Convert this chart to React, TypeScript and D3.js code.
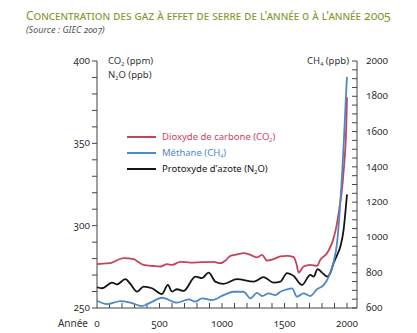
import React from "react";
import * as d3 from "d3";

const co2Years = [0, 50, 107, 160, 213, 293, 340, 373, 450, 507, 560, 600, 667, 747, 840, 933, 987, 1030, 1067, 1120, 1173, 1227, 1280, 1320, 1360, 1413, 1467, 1520, 1573, 1595, 1613, 1653, 1707, 1760, 1787, 1840, 1880, 1910, 1940, 1960, 1975, 1985, 1995, 2000];
const co2Values = [276.6, 277, 277.2, 279, 280.3, 279.7, 277.5, 276.2, 275.5, 275.2, 276.6, 276.2, 278, 277.6, 277.8, 278, 277.2, 279, 281.7, 282.5, 283.3, 282.3, 280.7, 282.3, 278.8, 279.7, 281.3, 281.7, 280.9, 277, 271.5, 275.2, 276.2, 275.6, 279.3, 283.3, 289.4, 297.6, 311, 322, 335, 345, 362, 378];

const ch4Years = [0, 80, 187, 267, 360, 427, 520, 640, 733, 787, 840, 920, 1013, 1093, 1173, 1227, 1280, 1320, 1373, 1427, 1467, 1520, 1560, 1600, 1653, 1707, 1760, 1813, 1853, 1893, 1920, 1940, 1960, 1975, 1985, 1995, 2000];
const ch4Values = [641, 622, 639, 630, 611, 630, 658, 630, 649, 636, 655, 645, 673, 692, 692, 655, 686, 668, 683, 673, 692, 706, 711, 664, 683, 668, 706, 730, 777, 862, 966, 1130, 1350, 1550, 1700, 1850, 1910];

const n2oYears = [0, 40, 120, 160, 227, 267, 320, 373, 440, 520, 567, 600, 640, 693, 787, 840, 893, 947, 1013, 1120, 1253, 1333, 1413, 1467, 1520, 1573, 1640, 1707, 1733, 1765, 1800, 1840, 1870, 1893, 1920, 1947, 1973, 1987, 2000];
const n2oValues = [262.6, 262, 265.4, 264.4, 267.5, 264.6, 260, 263, 262, 258.5, 264, 260, 261.4, 260.4, 269.1, 268.1, 271.5, 266, 264.6, 267.5, 266, 268.7, 265.4, 266, 271.2, 269.5, 264, 270.1, 269.1, 273.6, 271.5, 269.1, 272, 277.3, 282, 287.4, 297.6, 308, 319];

const leftTicks = [250, 300, 350, 400];
const rightTicks = [600, 800, 1000, 1200, 1400, 1600, 1800, 2000];
const xTicks = [0, 500, 1000, 1500, 2000];

const RED = "#c8435a";
const BLUE = "#4f88c6";
const BLACK = "#151515";
const GREEN = "#7f9a35";
const AXIS = "#444";
const FONT = "'Noto Sans', 'Open Sans', sans-serif";
const NUM: React.CSSProperties = { fontVariantNumeric: "oldstyle-nums", fontFeatureSettings: "'onum' 1" };

export default function App() {
  const W = 417, H = 333;
  const x = d3.scaleLinear().domain([0, 2080]).range([97, 357]);
  const yL = d3.scaleLinear().domain([250, 400]).range([308, 61]);
  const yR = d3.scaleLinear().domain([600, 2000]).range([308, 61]);

  const mk = (ys: number[], vs: number[], sc: d3.ScaleLinear<number, number>) =>
    d3.line<number>().x((_, i) => x(ys[i])).y((v) => sc(v)).curve(d3.curveMonotoneX)(vs) || "";

  const leftMinor = d3.range(250, 401, 10);
  const rightMinor = d3.range(600, 2001, 50);
  const xMinor = d3.range(100, 2001, 100);

  return (
    <svg width={W} height={H} style={{ position: "absolute", left: 0, top: 0, background: "#fff" }} fontFamily={FONT}>
      <text x={26} y={20} fill={GREEN} fontSize={12.2} style={{ fontVariant: "small-caps", ...NUM }}>
        Concentration des gaz à effet de serre de l'année 0 à l'année 2005
      </text>
      <text x={26} y={33} fill="#555" fontSize={9} fontStyle="italic" style={NUM}>(Source : GIEC 2007)</text>

      {/* left axis */}
      <line x1={97} x2={97} y1={yL(400)} y2={308} stroke={AXIS} strokeWidth={1} />
      {leftMinor.map((t) => (
        <line key={"l" + t} x1={92} x2={97} y1={yL(t)} y2={yL(t)} stroke={AXIS} strokeWidth={1} />
      ))}
      {leftTicks.map((t) => (
        <text key={"lt" + t} x={90} y={yL(t) + 3} textAnchor="end" fontSize={10} fill="#333" style={NUM}>{t}</text>
      ))}
      <text x={108} y={64} fontSize={9.5} fill="#333">CO<tspan fontSize={5.5} dy={1.5}>2</tspan><tspan dy={-1.5}> (ppm)</tspan></text>
      <text x={108} y={78} fontSize={9.5} fill="#333">N<tspan fontSize={5.5} dy={1.5}>2</tspan><tspan dy={-1.5}>O (ppb)</tspan></text>

      {/* right axis */}
      <line x1={357} x2={357} y1={yR(2000)} y2={308} stroke={AXIS} strokeWidth={1} />
      {rightMinor.map((t) => (
        <line key={"r" + t} x1={352} x2={357} y1={yR(t)} y2={yR(t)} stroke={AXIS} strokeWidth={1} />
      ))}
      {rightTicks.map((t) => (
        <text key={"rt" + t} x={366} y={yR(t) + 3} fontSize={10} fill="#333" style={NUM}>{t}</text>
      ))}
      <text x={349} y={64} textAnchor="end" fontSize={9.5} fill="#333">CH<tspan fontSize={5.5} dy={1.5}>4</tspan><tspan dy={-1.5}> (ppb)</tspan></text>

      {/* x axis */}
      <line x1={97} x2={357} y1={308} y2={308} stroke={AXIS} strokeWidth={1} />
      {xMinor.map((t) => (
        <line key={"x" + t} x1={x(t)} x2={x(t)} y1={303} y2={308} stroke={AXIS} strokeWidth={1} />
      ))}
      {xTicks.map((t) => (
        <text key={"xt" + t} x={x(t)} y={327} textAnchor="middle" fontSize={10} fill="#333" style={NUM}>{t}</text>
      ))}
      <text x={88} y={327} textAnchor="end" fontSize={10} fill="#333">Année</text>

      {/* series */}
      <path d={mk(n2oYears, n2oValues, yL)} fill="none" stroke={BLACK} strokeWidth={1.8} strokeLinejoin="round" />
      <path d={mk(co2Years, co2Values, yL)} fill="none" stroke={RED} strokeWidth={1.8} strokeLinejoin="round" />
      <path d={mk(ch4Years, ch4Values, yR)} fill="none" stroke={BLUE} strokeWidth={1.8} strokeLinejoin="round" />

      {/* legend */}
      <line x1={127} x2={156} y1={137} y2={137} stroke={RED} strokeWidth={2} />
      <line x1={127} x2={156} y1={153} y2={153} stroke={BLUE} strokeWidth={2} />
      <line x1={127} x2={156} y1={169} y2={169} stroke={BLACK} strokeWidth={2} />
      <text x={162} y={140} fontSize={9.5} fill={RED}>Dioxyde de carbone (CO<tspan fontSize={5.5} dy={1.5}>2</tspan><tspan dy={-1.5}>)</tspan></text>
      <text x={162} y={156} fontSize={9.5} fill={BLUE}>Méthane (CH<tspan fontSize={5.5} dy={1.5}>4</tspan><tspan dy={-1.5}>)</tspan></text>
      <text x={162} y={172} fontSize={9.5} fill={BLACK}>Protoxyde d'azote (N<tspan fontSize={5.5} dy={1.5}>2</tspan><tspan dy={-1.5}>O)</tspan></text>
    </svg>
  );
}
